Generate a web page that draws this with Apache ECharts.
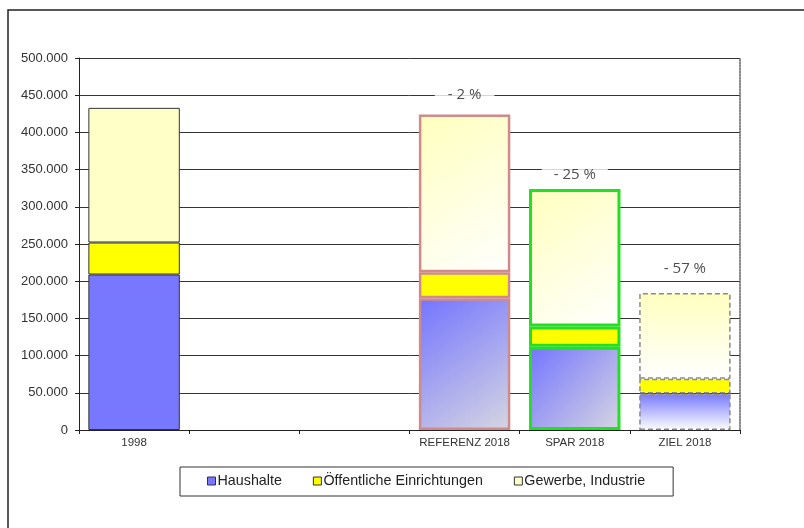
<!DOCTYPE html>
<html>
<head>
<meta charset="utf-8">
<script src="https://cdn.jsdelivr.net/npm/echarts@6/dist/echarts.min.js"></script>
<style>html,body{margin:0;padding:0;background:#fff}#c{width:804px;height:528px}</style>
</head>
<body>
<div id="c"></div>
<script>
var categories = ['1998', '', '', 'REFERENZ 2018', 'SPAR 2018', 'ZIEL 2018'];
var haushalte = [209000, null, null, 177000, 112000, 49000];
var oeffentlich = [43000, null, null, 35000, 27000, 20000];
var gewerbe = [181000, null, null, 212000, 185000, 115000];
var annotTexts = ['- 2 %', '- 25 %', '- 57 %'];
var annotCats = ['REFERENZ 2018', 'SPAR 2018', 'ZIEL 2018'];
var annotValues = [450000, 343000, 217000];
var seriesNames = ['Haushalte', 'Öffentliche Einrichtungen', 'Gewerbe, Industrie'];

var G = echarts.graphic.LinearGradient;
var baseColors = ['#7878ff', '#ffff00', '#ffffc8'];
function border(i) {
  if (i === 3) return {borderColor: '#d08a8a', borderWidth: 2.5, borderType: 'solid'};
  if (i === 4) return {borderColor: '#22e022', borderWidth: 3, borderType: 'solid'};
  if (i === 5) return {borderColor: '#8a8a8a', borderWidth: 1.5, borderType: [5, 3]};
  return {borderColor: '#333', borderWidth: 1, borderType: 'solid'};
}
function fill(s, i) {
  if (s === 1) return '#ffff00';
  if (i === 0) return baseColors[s];
  if (i === 5) {
    return s === 0
      ? new G(0, 0, 0, 1, [{offset: 0, color: '#7878ff'}, {offset: 1, color: '#ffffff'}])
      : new G(0, 0, 0, 1, [{offset: 0, color: '#ffffc0'}, {offset: 1, color: '#ffffff'}]);
  }
  return s === 0
    ? new G(0, 0, 1, 1, [{offset: 0, color: '#7474ff'}, {offset: 1, color: '#d6d6e2'}])
    : new G(0, 0, 1, 1, [{offset: 0, color: '#ffffbe'}, {offset: 1, color: '#ffffff'}]);
}
function build(arr, s) {
  return arr.map(function (v, i) {
    if (v === null) return null;
    var b = border(i);
    return {value: v, itemStyle: Object.assign({color: fill(s, i)}, b)};
  });
}
var dataSets = [haushalte, oeffentlich, gewerbe];
var series = dataSets.map(function (arr, s) {
  return {
    name: seriesNames[s], type: 'bar', stack: 'a', barWidth: '83%',
    itemStyle: {color: baseColors[s], borderColor: '#333', borderWidth: 1},
    data: build(arr, s), z: 3
  };
});
var annotPads = [[3, 13, 3, 13], [3, 12, 8, 12], [10, 14, 0, 14]];
series.push({
  type: 'scatter', symbolSize: 0, z: 5, silent: true,
  data: annotCats.map(function (c, i) {
    return {
      value: [c, annotValues[i]],
      label: {show: true, position: 'inside', formatter: annotTexts[i], padding: annotPads[i],
        backgroundColor: '#fff', color: '#222', fontSize: 15, fontFamily: 'Open Sans'}
    };
  })
});

var chart = echarts.init(document.getElementById('c'));
chart.setOption({
  animation: false,
  backgroundColor: '#fff',
  grid: {left: 79, right: 64, top: 58, bottom: 98},
  graphic: [{type: 'rect', shape: {x: 8, y: 10, width: 830, height: 560}, style: {fill: 'none', stroke: '#222', lineWidth: 1.5}, z: -1}],
  legend: {
    data: seriesNames.map(function (n, s) {
      return {name: n, itemStyle: {color: baseColors[s], borderColor: '#333', borderWidth: 1}};
    }),
    left: 180, top: 467, orient: 'horizontal',
    icon: 'rect', itemWidth: 8, itemHeight: 8, itemGap: 31,
    padding: [7, 28, 8, 27], borderColor: '#333', borderWidth: 1,
    textStyle: {fontFamily: 'Liberation Sans', fontSize: 14.3, color: '#222', padding: [0, 0, 0, -3]}
  },
  xAxis: {
    type: 'category', data: categories,
    axisLine: {lineStyle: {color: '#222', width: 1}},
    axisTick: {show: true, length: 4, lineStyle: {color: '#222'}},
    axisLabel: {fontFamily: 'Liberation Sans', fontSize: 11.5, color: '#333', margin: 7, interval: 0}
  },
  yAxis: [{
    type: 'value', min: 0, max: 500000, interval: 50000,
    axisLine: {show: true, lineStyle: {color: '#222', width: 1}},
    axisTick: {show: true, length: 4, lineStyle: {color: '#222'}},
    axisLabel: {fontFamily: 'Liberation Sans', fontSize: 13, color: '#333', margin: 11,
      formatter: function (v) { return v === 0 ? '0' : (v / 1000) + '.000'; }},
    splitLine: {show: true, lineStyle: {color: '#333', width: 1}}
  }, {
    type: 'value', min: 0, max: 500000, interval: 50000, position: 'right',
    axisLine: {show: true, lineStyle: {color: '#666', width: 1.5, type: [2, 1]}},
    axisTick: {show: false}, axisLabel: {show: false}, splitLine: {show: false}
  }],
  series: series
});
</script>
</body>
</html>
